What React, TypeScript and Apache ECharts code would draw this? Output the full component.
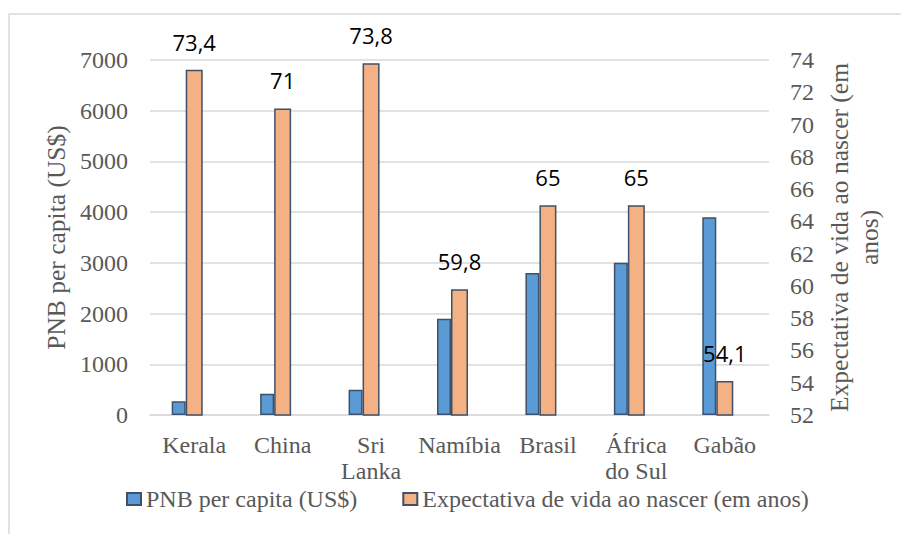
import React, { useEffect, useRef } from "react";
import * as echarts from "echarts";

const categories = ["Kerala", "China", "Sri\nLanka", "Namíbia", "Brasil", "África\ndo Sul", "Gabão"];
const pnbValues = [270, 420, 500, 1900, 2800, 3000, 3900];
const lifeValues = [73.4, 71, 73.8, 59.8, 65, 65, 54.1];
const spacerValues = [null, null, null, null, null, null, null];
const seriesNames = ["PNB per capita (US$)", "Expectativa de vida ao nascer (em anos)"];
const leftTitle = "PNB per capita (US$)";
const rightTitle = "Expectativa de vida ao nascer (em\nanos)";

const SERIF = '"Liberation Serif", "Times New Roman", serif';
const SANS = '"Open Sans", "Noto Sans", sans-serif';
const GRAY = "#595959";

export default function App() {
  const ref = useRef<HTMLDivElement>(null);
  useEffect(() => {
    document.body.style.margin = "0";
    const chart = echarts.init(ref.current!, null, { renderer: "svg" });
    chart.setOption({
      animation: false,
      backgroundColor: "#ffffff",
      graphic: [
        {
          type: "rect",
          shape: { x: 9, y: 14, width: 1000, height: 600 },
          style: { fill: "none", stroke: "#D9D9D9", lineWidth: 1.5 },
          silent: true,
        },
      ],
      grid: { left: 150, right: 132, top: 60, bottom: 119 },
      legend: {
        data: seriesNames,
        left: 121,
        top: 482,
        itemGap: 45,
        itemWidth: 14,
        itemHeight: 12,
        icon: "rect",
        textStyle: { fontFamily: SERIF, fontSize: 24, color: GRAY },
      },
      xAxis: {
        type: "category",
        data: categories,
        axisLine: { lineStyle: { color: "#D9D9D9", width: 1.5 } },
        axisTick: { show: false },
        axisLabel: {
          fontFamily: SERIF,
          fontSize: 24,
          color: GRAY,
          lineHeight: 26,
          margin: 17,
          interval: 0,
        },
      },
      yAxis: [
        {
          type: "value",
          min: 0,
          max: 7000,
          interval: 1000,
          name: leftTitle,
          nameLocation: "middle",
          nameRotate: 90,
          nameGap: 77,
          nameTextStyle: { fontFamily: SERIF, fontSize: 25.5, color: GRAY },
          axisLine: { show: false },
          axisTick: { show: false },
          axisLabel: {
            fontFamily: SERIF,
            fontSize: 24,
            color: GRAY,
            margin: 22,
            formatter: (v: number) => String(v),
          },
          splitLine: { lineStyle: { color: "#D9D9D9", width: 1.5 } },
        },
        {
          type: "value",
          min: 52,
          max: 74,
          interval: 2,
          name: rightTitle,
          nameLocation: "middle",
          nameRotate: 90,
          nameGap: 53,
          nameTextStyle: { fontFamily: SERIF, fontSize: 25.5, color: GRAY, lineHeight: 30 },
          axisLine: { show: false },
          axisTick: { show: false },
          axisLabel: { fontFamily: SERIF, fontSize: 24, color: GRAY, margin: 21 },
          splitLine: { show: false },
        },
      ],
      series: [
        {
          name: seriesNames[0],
          type: "bar",
          yAxisIndex: 0,
          data: pnbValues,
          barWidth: 14,
          barGap: "0%",
          itemStyle: { color: "#5B9BD5", borderColor: "#3F5068", borderWidth: 1.5 },
        },
        {
          name: seriesNames[1],
          type: "bar",
          yAxisIndex: 1,
          data: lifeValues,
          barWidth: 17,
          barGap: "0%",
          itemStyle: { color: "#F4B183", borderColor: "#3F5068", borderWidth: 1.5 },
          label: {
            show: true,
            position: "top",
            distance: 17,
            fontFamily: SANS,
            fontSize: 22,
            color: "#000000",
            formatter: (p: any) => String(p.value).replace(".", ","),
          },
        },
        {
          name: "spacer",
          type: "bar",
          yAxisIndex: 0,
          data: spacerValues,
          barWidth: 14,
          barGap: "0%",
          itemStyle: { color: "transparent" },
          silent: true,
        },
      ],
    });
    return () => chart.dispose();
  }, []);
  return <div ref={ref} style={{ width: 901, height: 534 }} />;
}
